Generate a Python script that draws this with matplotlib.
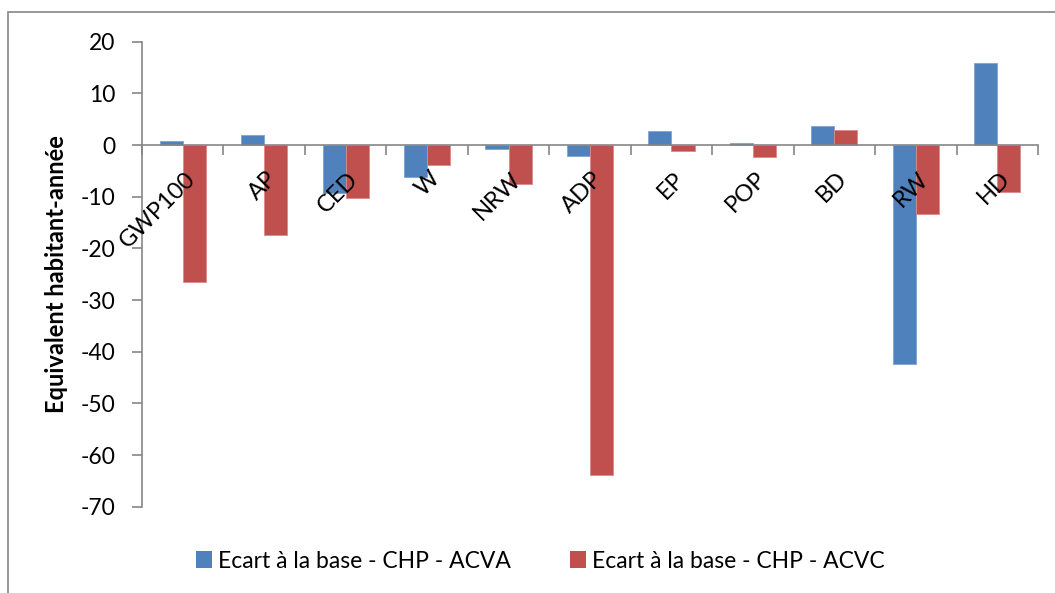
import numpy as np
import matplotlib
matplotlib.use("Agg")
import matplotlib.pyplot as plt
from matplotlib.patches import Rectangle, Patch

plt.rcParams['font.family'] = ['Lato', 'DejaVu Sans']
plt.rcParams['axes.unicode_minus'] = False

categories = ["GWP100", "AP", "CED", "W", "NRW", "ADP", "EP", "POP", "BD", "RW", "HD"]
acva = [0.8, 1.9, -9.3, -6.2, -0.8, -2.2, 2.7, 0.3, 3.7, -42.3, 15.8]
acvc = [-26.6, -17.4, -10.3, -3.8, -7.5, -63.9, -1.1, -2.4, 2.9, -13.4, -9.0]
series_names = ["Ecart à la base - CHP - ACVA", "Ecart à la base - CHP - ACVC"]

BLUE = "#4F81BD"
RED = "#C0504D"
GREY = "#868686"

W, H = 1055, 593
fig = plt.figure(figsize=(W / 100, H / 100), dpi=100)
ax = fig.add_axes([142 / W, 1 - 506.7 / H, (1038 - 142) / W, (506.7 - 41.7) / H])

x = np.arange(len(categories))
bw = 0.283
ax.bar(x - bw / 2, acva, bw, color=BLUE, edgecolor="#7FA3D2", linewidth=0.6, zorder=2)
ax.bar(x + bw / 2, acvc, bw, color=RED, edgecolor="#DC8A88", linewidth=0.6, zorder=2)

ax.set_xlim(-0.5, len(categories) - 0.5)
ax.set_ylim(-70, 20)
ax.set_yticks(np.arange(-70, 21, 10))

# axes: y spine on the left, category axis sitting on zero
for s in ["top", "right"]:
    ax.spines[s].set_visible(False)
ax.spines["left"].set_color(GREY)
ax.spines["bottom"].set_color(GREY)
ax.spines["bottom"].set_position(("data", 0))
ax.spines["bottom"].set_zorder(3)
ax.spines["left"].set_linewidth(1.2)
ax.spines["bottom"].set_linewidth(1.2)

ax.tick_params(axis="y", direction="out", length=7, color=GREY, width=1.2,
               labelsize=16.5, pad=12)
ax.set_xticks(np.arange(-0.5, len(categories), 1))
ax.set_xticklabels([])
ax.tick_params(axis="x", direction="out", length=7, color=GREY, width=1.2)

# category names drawn over the bars
for xi, name in zip(x, categories):
    ax.annotate(name, (xi, 0), xytext=(2, -23), textcoords="offset pixels",
                rotation=45, ha="right", va="top", rotation_mode="anchor",
                fontsize=17, zorder=5, annotation_clip=False)

ax.set_ylabel("Equivalent habitant-année", fontsize=17, fontweight="bold", labelpad=9)

handles = [Patch(facecolor=BLUE), Patch(facecolor=RED)]
fig.legend(handles, series_names, loc="center", bbox_to_anchor=(0.512, 1 - 561 / H),
           ncol=2, frameon=False, fontsize=16.5, handlelength=0.7, handleheight=0.7,
           handletextpad=0.25, columnspacing=2.6)

# chart area frame
fig.patches.append(Rectangle((8 / W, -0.1), 2, 1 - 12 / H + 0.1, transform=fig.transFigure,
                             fill=False, edgecolor=GREY, linewidth=1.2))

fig.savefig("out.png", dpi=100)
